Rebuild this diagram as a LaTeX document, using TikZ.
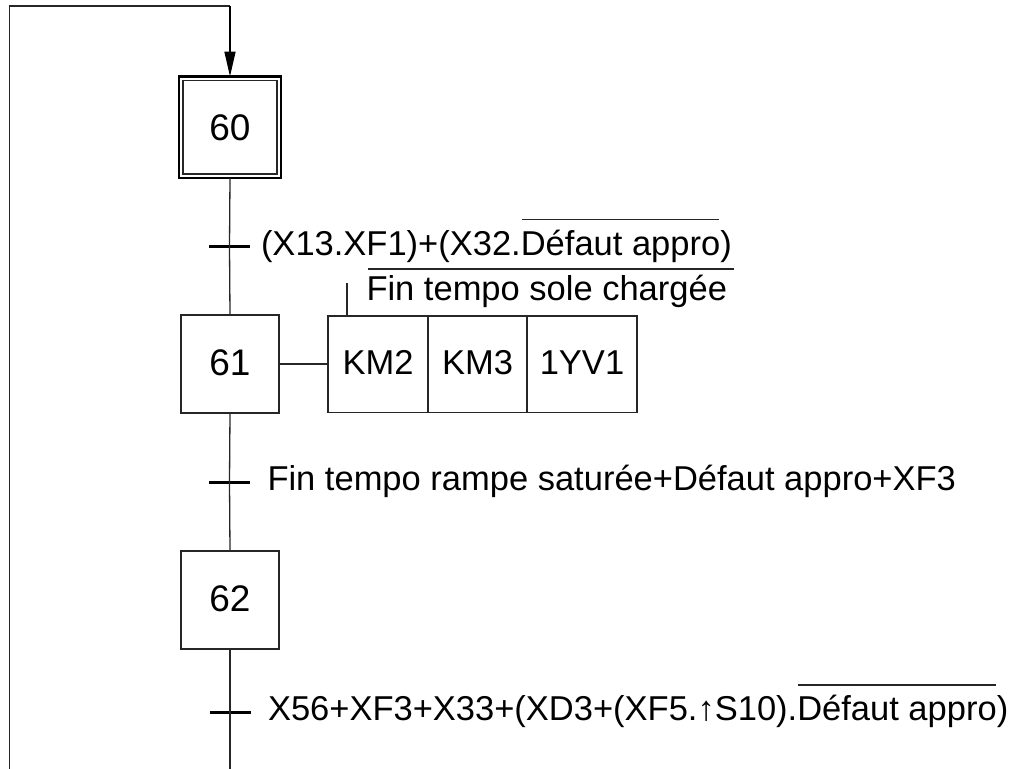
\documentclass[tikz,border=0pt]{standalone}
\usepackage{fontspec}
\setmainfont{Liberation Sans}
\usetikzlibrary{arrows.meta,calc}
\begin{document}
\begin{tikzpicture}[x=1pt,y=-1pt,
  line width=1.3pt, draw=black!85,
  every node/.style={font=\fontsize{34.5}{40}\selectfont, inner sep=0pt, outer sep=0pt},
  stepbox/.style={draw=black!85, line width=1.5pt, minimum width=98pt, minimum height=98pt,
    font=\fontsize{37}{42}\selectfont, text height=26.5pt, text depth=4pt},
  initbox/.style={draw=black, line width=2.4pt, minimum width=102pt, minimum height=101.5pt,
    font=\fontsize{37}{42}\selectfont, text height=26.5pt, text depth=0pt},
  actbox/.style={draw=black!85, line width=1.5pt, minimum height=96.5pt, text height=25pt, text depth=5pt},
  trans/.style={fill=black, minimum width=41pt, minimum height=3pt},
  lbl/.style={anchor=base west},
  ovl/.style={line width=1.3pt, draw=black!85},
]
\useasboundingbox (0,0) rectangle (1021,769);

% steps
\node[initbox] (s60) at (230,127.3) {60};
\draw[line width=1.3pt] ($(s60.north west)+(4,4)$) rectangle ($(s60.south east)+(-4,-4)$);
\node[stepbox] (s61) at (230,364) {61};
\node[stepbox] (s62) at (230,600) {62};

% transitions
\node[trans] (t1) at (229.5,246.5) {};
\node[trans] (t2) at (229.5,482) {};
\node[trans] (t3) at (230,712) {};

% loop back and arrow
\coordinate (tl) at (9.5,6);
\coordinate (tr) at (230,6);
\coordinate (bl) at (9.5,769);
\coordinate (bm) at (230,769);
\draw (bl) -- (tl) -- (tr);
\draw[line width=1.6pt, draw=black, -{Triangle[length=25pt,width=11pt]}] (tr) -- (s60.north);

% main vertical line
\draw (s60.south) -- (t1.center) -- (s61.north);
\draw (s61.south) -- (t2.center) -- (s62.north);
\draw (s62.south) -- (t3.center) -- (bm);

% actions
\node[actbox, minimum width=100pt] (a1) at (378,364) {KM2};
\node[actbox, minimum width=99pt] (a2) at (477.5,364) {KM3};
\node[actbox, minimum width=110pt] (a3) at (582,364) {1YV1};
\draw (s61.east) -- (a1.west);
\coordinate (tk) at (347,283);
\draw (tk |- a1.north) -- (tk);

% transition 1 receptivity
\node[lbl] (r1a) at (261,255) {(X13.XF1)+(X32.};
\node[lbl] (r1b) at (r1a.base east) {Défaut appro};
\node[lbl] (r1c) at (r1b.base east) {)};
\draw[ovl] ($(r1b.base west)+(1,-35.5)$) -- ($(r1b.base east)+(-1,-35.5)$);

% action condition
\node[lbl] (c1) at (366.5,300) {Fin tempo sole chargée};
\draw[ovl] ($(c1.base west)+(1.5,-31)$) -- ($(c1.base east)+(7,-31)$);

% transition 2 receptivity
\node[lbl] (r2) at (267.5,490.5) {Fin tempo rampe saturée+Défaut appro+XF3};

% transition 3 receptivity
\node[lbl] (r3a) at (268,720.5) {X56+XF3+X33+(XD3+(XF5.↑S10).};
\node[lbl] (r3b) at (r3a.base east) {Défaut appro};
\node[lbl] (r3c) at (r3b.base east) {)};
\draw[ovl] ($(r3b.base west)+(1,-35.5)$) -- ($(r3b.base east)+(-1,-35.5)$);
\end{tikzpicture}
\end{document}
